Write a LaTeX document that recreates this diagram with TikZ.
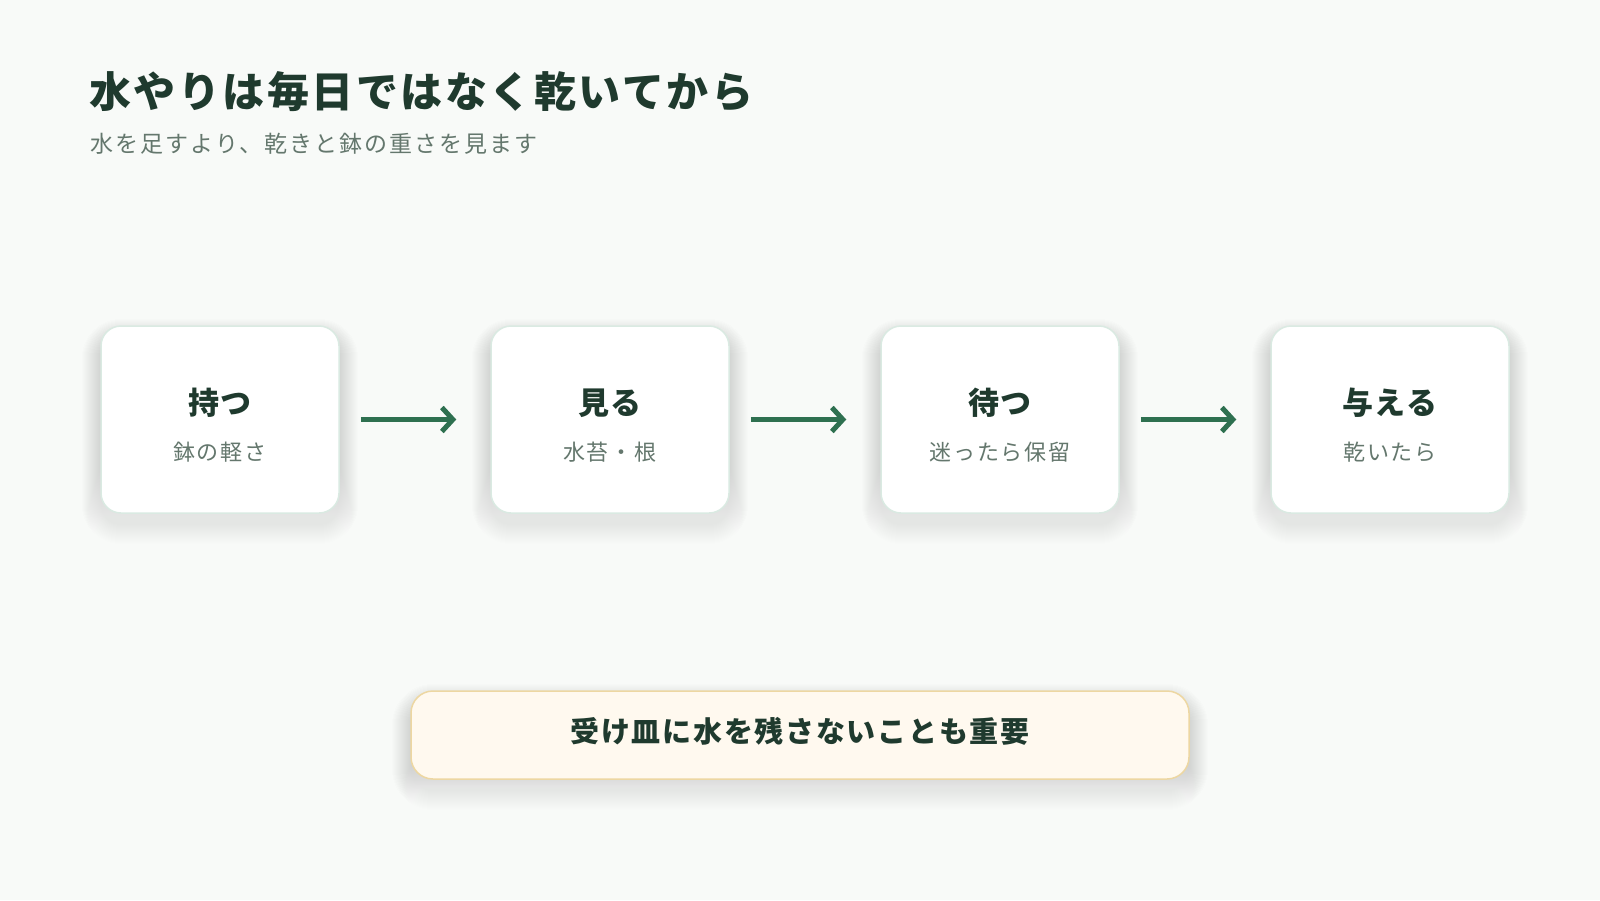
\documentclass[tikz,border=0pt]{standalone}
\usepackage{fontspec}
\newfontfamily\jp{Noto Sans CJK JP}
\IfFontExistsTF{Noto Sans CJK JP Medium}
  {\newfontfamily\jpb{Noto Sans CJK JP Medium}[LetterSpace=6]}
  {\newfontfamily\jpb{Noto Sans CJK JP}[LetterSpace=6,UprightFont=*,BoldFont=*]}
\newfontfamily\jpl{Noto Sans CJK JP}[LetterSpace=9]
\usetikzlibrary{arrows.meta}
\definecolor{bg}{HTML}{F8FAF8}
\definecolor{ink}{HTML}{1F3A2E}
\definecolor{muted}{HTML}{64776D}
\definecolor{cardline}{HTML}{DAEAE2}
\definecolor{arrowgreen}{HTML}{2E7050}
\definecolor{notefill}{HTML}{FFF9EF}
\definecolor{noteline}{HTML}{EDD7A2}
\definecolor{shade}{HTML}{7D8C84}
\tikzset{
  card/.style={draw=cardline, line width=1.5pt, fill=white, rounded corners=20pt,
    minimum width=238pt, minimum height=187pt, inner sep=0pt},
  note/.style={draw=noteline, line width=1.5pt, fill=notefill, rounded corners=22pt,
    minimum width=778pt, minimum height=88pt, inner sep=0pt},
  ttl/.style={font=\jpb\bfseries\fontsize{31}{36}\selectfont, text=ink, inner sep=0pt},
  sub/.style={font=\jpl\fontsize{22}{26}\selectfont, text=muted, inner sep=0pt},
  arr/.style={draw=arrowgreen, line width=5pt,
    -{Straight Barb[length=11pt,width=24pt,line width=5pt]}},
}
\newcommand{\softshadow}[5]{% cx cy w h r
  \foreach \k in {0,...,19}{
    \fill[shade, opacity=0.004, rounded corners=#5+\k*1.0pt]
      (#1-#3/2-\k*1.0, #2-#4/2-\k*1.0+12) rectangle (#1+#3/2+\k*1.0, #2+#4/2+\k*1.0+12);
  }
}
\begin{document}
\begin{tikzpicture}[x=1pt,y=-1pt]
\fill[bg] (0,0) rectangle (1600,900);
\useasboundingbox (0,0) rectangle (1600,900);

% header
\node[anchor=west, font=\jpb\bfseries\fontsize{42}{48}\selectfont, text=ink, inner sep=0pt] (title) at (89,92) {水やりは毎日ではなく乾いてから};
\node[anchor=west, font=\jpl\fontsize{23}{27}\selectfont, text=muted, inner sep=0pt] (subtitle) at (90,144) {水を足すより、乾きと鉢の重さを見ます};

% shadows
\softshadow{220}{419.5}{238}{187}{20pt}
\softshadow{610}{419.5}{238}{187}{20pt}
\softshadow{1000}{419.5}{238}{187}{20pt}
\softshadow{1390}{419.5}{238}{187}{20pt}
\softshadow{800}{735}{778}{88}{22pt}

% cards
\node[card] (c1) at (220,419.5) {};
\node[card] (c2) at (610,419.5) {};
\node[card] (c3) at (1000,419.5) {};
\node[card] (c4) at (1390,419.5) {};

\node[ttl] (t1) at (220,403) {持つ};
\node[sub] (s1) at (220,452) {鉢の軽さ};
\node[ttl] (t2) at (610,403) {見る};
\node[sub] (s2) at (610,452) {水苔・根};
\node[ttl] (t3) at (1000,403) {待つ};
\node[sub] (s3) at (1000,452) {迷ったら保留};
\node[ttl] (t4) at (1390,403) {与える};
\node[sub] (s4) at (1390,452) {乾いたら};

% arrows
\draw[arr] ([xshift=21pt]c1.east) -- ([xshift=-34pt]c2.west);
\draw[arr] ([xshift=21pt]c2.east) -- ([xshift=-34pt]c3.west);
\draw[arr] ([xshift=21pt]c3.east) -- ([xshift=-34pt]c4.west);

% note
\node[note] (n) at (800,735) {};
\node[font=\jpb\bfseries\fontsize{29}{34}\selectfont, text=ink, inner sep=0pt] (nt) at (800,731) {受け皿に水を残さないことも重要};
\end{tikzpicture}
\end{document}
